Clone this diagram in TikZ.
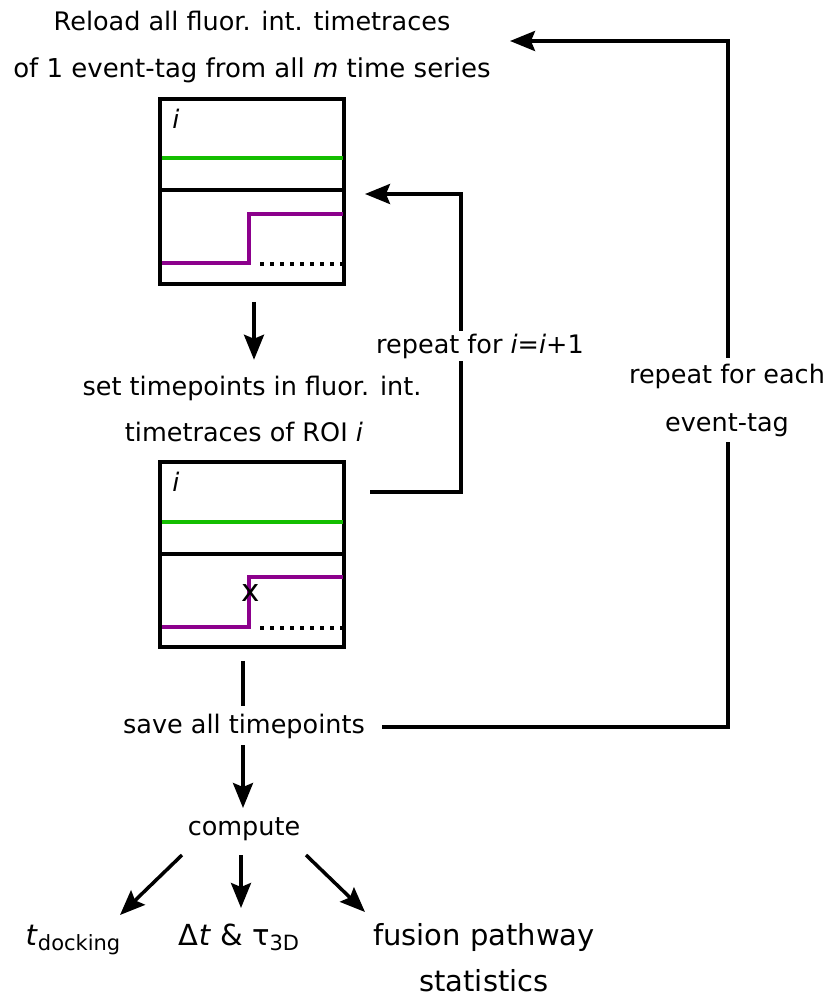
\documentclass[tikz,border=0pt]{standalone}
\usepackage{fontspec}
\setmainfont{DejaVu Sans}
\usetikzlibrary{arrows.meta}
\definecolor{tgreen}{RGB}{20,190,0}
\definecolor{tpurple}{RGB}{140,0,140}
\tikzset{
  txt/.style={inner sep=0pt, anchor=base, font=\fontsize{25.5}{30}\selectfont},
  big/.style={inner sep=0pt, anchor=base, font=\fontsize{29}{34}\selectfont},
  lbl/.style={txt, fill=white, inner sep=3pt},
  frame/.style={draw, line width=3.5pt, minimum width=184pt, minimum height=185pt, inner sep=0pt},
  con/.style={line width=3.5pt},
  arr/.style={line width=3.5pt, -{Stealth[length=25pt,width=20pt,inset=4pt]}},
  gline/.style={tgreen, line width=3.5pt},
  pline/.style={tpurple, line width=3.5pt},
  dline/.style={line width=3.5pt, dash pattern=on 3.5pt off 6.5pt},
}
\begin{document}
\begin{tikzpicture}[x=1pt,y=-1pt]
\useasboundingbox (0,0) rectangle (830,996);
% titles
\node[txt] (t1) at (252,30) {Reload all fluor. int. timetraces};
\node[txt, font=\fontsize{26}{30}\selectfont] (t2) at (252,77) {of 1 event-tag from all \textit{m} time series};
% box 1
\node[frame] (b1) at (252,191.5) {};
\draw[gline] (161.5,158) -- (342.5,158);
\draw[line width=3.5pt] (161.5,190) -- (342.5,190);
\draw[pline] (161.5,263) -- (249,263) -- (249,214) -- (342.5,214);
\draw[dline] (260,264) -- (342,264);
\node[txt] (i1) at (176,128) {\textit{i}};
% text between
\node[txt] (s1) at (252,395) {set timepoints in fluor. int.};
\node[txt] (s2) at (244,441) {timetraces of ROI \textit{i}};
% box 2
\node[frame] (b2) at (252,554.5) {};
\draw[gline] (161.5,522) -- (342.5,522);
\draw[line width=3.5pt] (161.5,554) -- (342.5,554);
\draw[pline] (161.5,627) -- (249,627) -- (249,577) -- (342.5,577);
\draw[dline] (260,628) -- (342,628);
\node[txt] (i2) at (176,491) {\textit{i}};
\node[txt, font=\fontsize{31}{34}\selectfont] (x2) at (251,601) {x};
% lower texts
\node[txt] (save) at (244,733) {save all timepoints};
\node[txt] (comp) at (244,835) {compute};
\node[big] (td) at (73,945) {\textit{t}\raisebox{-5pt}{\fontsize{21}{21}\selectfont docking}};
\node[big] (dt) at (239,945) {Δ\textit{t} \& τ\raisebox{-5pt}{\fontsize{21}{21}\selectfont 3D}};
\node[big] (fus) at (484,945) {fusion pathway};
\node[big] (stat) at (484,991) {statistics};
% coordinates
\coordinate (l1s) at (370,492);
\coordinate (l1c) at (461,194);
\coordinate (l1e) at (365,194);
\coordinate (l2s) at (382,727);
\coordinate (l2c) at (728,41);
\coordinate (l2e) at (510,41);
% connectors
\draw[arr] ([yshift=-16pt]b1.south) ++(2,0) -- ++(0,58);
\draw[con] ([yshift=-12pt]b2.south) ++(-9,0) -- ++(0,45);
\draw[arr] ([yshift=-12pt]save.base) ++(-1,0) -- ++(0,63);
\draw[arr] (182,855) -- (120,915);
\draw[arr] (241,855) -- (241,908);
\draw[arr] (306,855) -- (365,912);
\draw[arr] (l1s) -| (l1c) -- (l1e);
\draw[arr] (l2s) -| (l2c) -- (l2e);
% loop labels
\node[lbl] (r1) at (480,353) {repeat for \textit{i}=\textit{i}+1};
\node[lbl, align=center, inner sep=6pt] (r2) at (727,431) {repeat for each\\[18pt]event-tag};
\end{tikzpicture}
\end{document}
